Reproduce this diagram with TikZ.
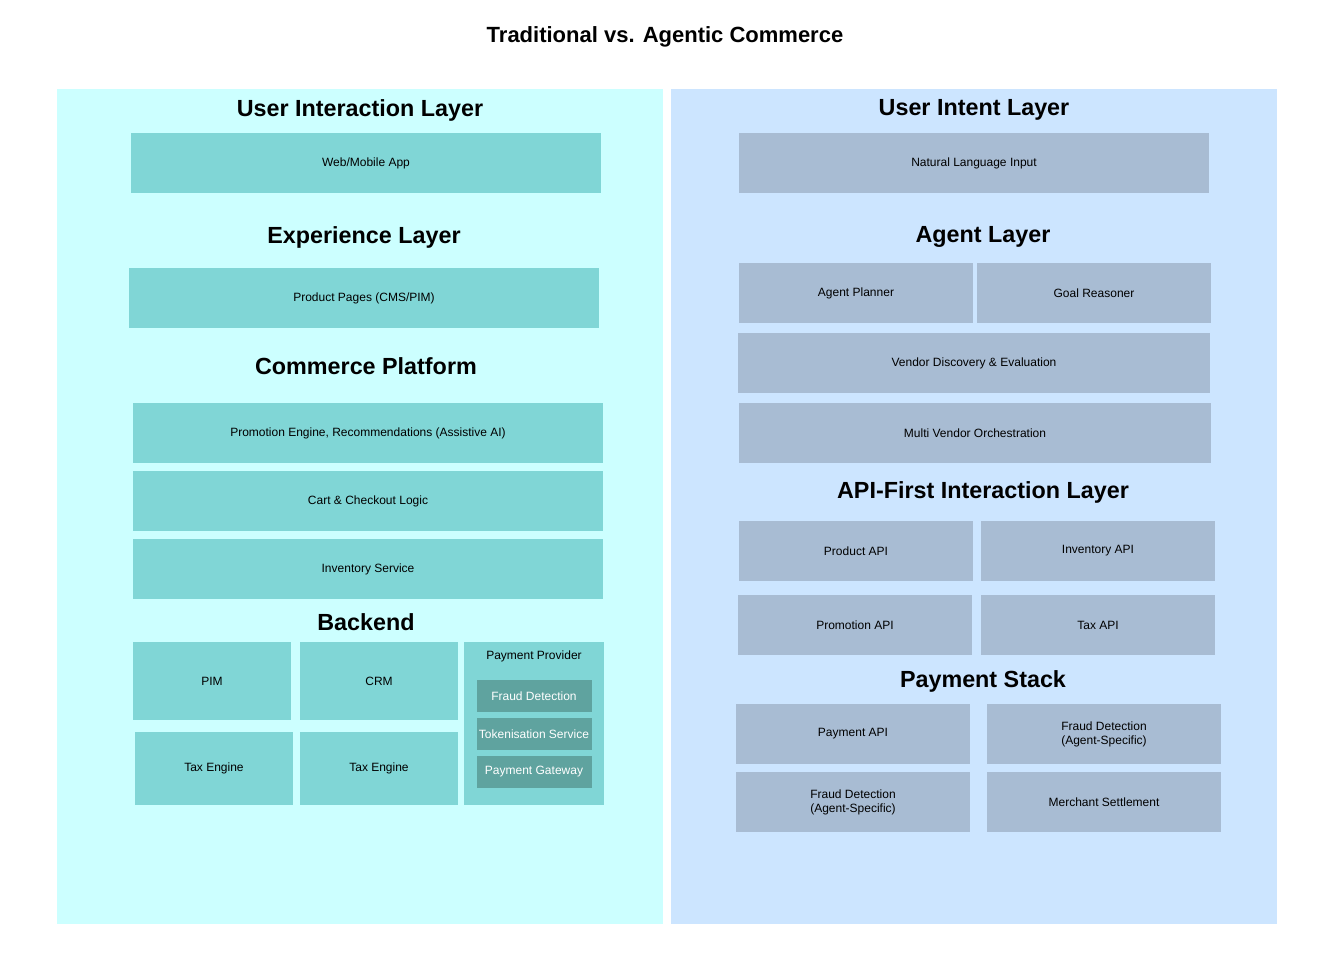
\documentclass[tikz,border=0pt]{standalone}
\usepackage{fontspec}
\setmainfont{Liberation Sans}
\definecolor{leftbg}{HTML}{CCFFFF}
\definecolor{leftbox}{HTML}{80D6D6}
\definecolor{darkbox}{HTML}{5FA39F}
\definecolor{rightbg}{HTML}{CCE5FF}
\definecolor{rightbox}{HTML}{A8BCD3}
\tikzset{
  box/.style={rectangle, inner sep=0pt, align=center, font=\fontsize{9}{10.5}\selectfont},
  lbox/.style={box, fill=leftbox},
  rbox/.style={box, fill=rightbox},
  dbox/.style={box, fill=darkbox, text=white},
  head/.style={font=\fontsize{17.5}{20}\selectfont\bfseries}
}
\begin{document}
\begin{tikzpicture}[x=0.75pt,y=-0.75pt]
\useasboundingbox (0,0) rectangle (1322,967);

%% Title %%
\node[font=\fontsize{16.5}{19}\selectfont\bfseries] (title) at (665,37) {Traditional vs. Agentic Commerce};

%% Panels %%
\fill[leftbg] (57,89) rectangle (663,924);
\fill[rightbg] (671,89) rectangle (1277,924);

%% Traditional %%
\node[head] (uil) at (360,110) {User Interaction Layer};
\node[lbox, minimum width=470*0.75pt, minimum height=60*0.75pt] (webapp) at (366,163) {Web/Mobile App};
\node[head] (exp) at (364,237) {Experience Layer};
\node[lbox, minimum width=470*0.75pt, minimum height=60*0.75pt] (pages) at (364,298) {Product Pages (CMS/PIM)};
\node[head] (commerce) at (366,366) {Commerce Platform};
\node[lbox, minimum width=470*0.75pt, minimum height=60*0.75pt] (promo) at (368,433) {Promotion Engine, Recommendations (Assistive AI)};
\node[lbox, minimum width=470*0.75pt, minimum height=60*0.75pt] (cart) at (368,501) {Cart \& Checkout Logic};
\node[lbox, minimum width=470*0.75pt, minimum height=60*0.75pt] (inventory) at (368,569) {Inventory Service};
\node[head] (backend) at (366,622) {Backend};
\node[lbox, minimum width=158*0.75pt, minimum height=78*0.75pt] (pim) at (212,681) {PIM};
\node[lbox, minimum width=158*0.75pt, minimum height=78*0.75pt] (crm) at (379,681) {CRM};
\node[lbox, minimum width=158*0.75pt, minimum height=73*0.75pt] (taxA) at (214,768) {Tax Engine};
\node[lbox, minimum width=158*0.75pt, minimum height=73*0.75pt] (taxB) at (379,768) {Tax Engine};
\node[lbox, minimum width=140*0.75pt, minimum height=163*0.75pt] (provider) at (534,723) {};
\node[box] (providertag) at (534,656) {Payment Provider};
\node[dbox, minimum width=115*0.75pt, minimum height=32*0.75pt] (fraud) at (534,696) {Fraud Detection};
\node[dbox, minimum width=115*0.75pt, minimum height=32*0.75pt] (token) at (534,734) {Tokenisation Service};
\node[dbox, minimum width=115*0.75pt, minimum height=32*0.75pt] (gateway) at (534,772) {Payment Gateway};

%% Agentic %%
\node[head] (intent) at (974,110) {User Intent Layer};
\node[rbox, minimum width=470*0.75pt, minimum height=60*0.75pt] (nli) at (974,163) {Natural Language Input};
\node[head] (agent) at (983,237) {Agent Layer};
\node[rbox, minimum width=234*0.75pt, minimum height=60*0.75pt] (planner) at (856,293) {Agent Planner};
\node[rbox, minimum width=234*0.75pt, minimum height=60*0.75pt] (reasoner) at (1094,293) {Goal Reasoner};
\node[rbox, minimum width=472*0.75pt, minimum height=60*0.75pt] (vendor) at (974,363) {Vendor Discovery \& Evaluation};
\node[rbox, minimum width=472*0.75pt, minimum height=60*0.75pt] (multi) at (975,433) {Multi Vendor Orchestration};
\node[head] (api) at (983,492) {API-First Interaction Layer};
\node[rbox, minimum width=234*0.75pt, minimum height=60*0.75pt] (prodapi) at (856,551) {Product API};
\node[rbox, minimum width=234*0.75pt, minimum height=60*0.75pt] (invapi) at (1098,551) {Inventory API};
\node[rbox, minimum width=234*0.75pt, minimum height=60*0.75pt] (promoapi) at (855,625) {Promotion API};
\node[rbox, minimum width=234*0.75pt, minimum height=60*0.75pt] (taxapi) at (1098,625) {Tax API};
\node[head] (paystack) at (983,681) {Payment Stack};
\node[rbox, minimum width=234*0.75pt, minimum height=60*0.75pt] (payapi) at (853,734) {Payment API};
\node[rbox, minimum width=234*0.75pt, minimum height=60*0.75pt] (fraudA) at (1104,734) {Fraud Detection\\(Agent-Specific)};
\node[rbox, minimum width=234*0.75pt, minimum height=60*0.75pt] (fraudB) at (853,802) {Fraud Detection\\(Agent-Specific)};
\node[rbox, minimum width=234*0.75pt, minimum height=60*0.75pt] (settle) at (1104,802) {Merchant Settlement};
\end{tikzpicture}
\end{document}
